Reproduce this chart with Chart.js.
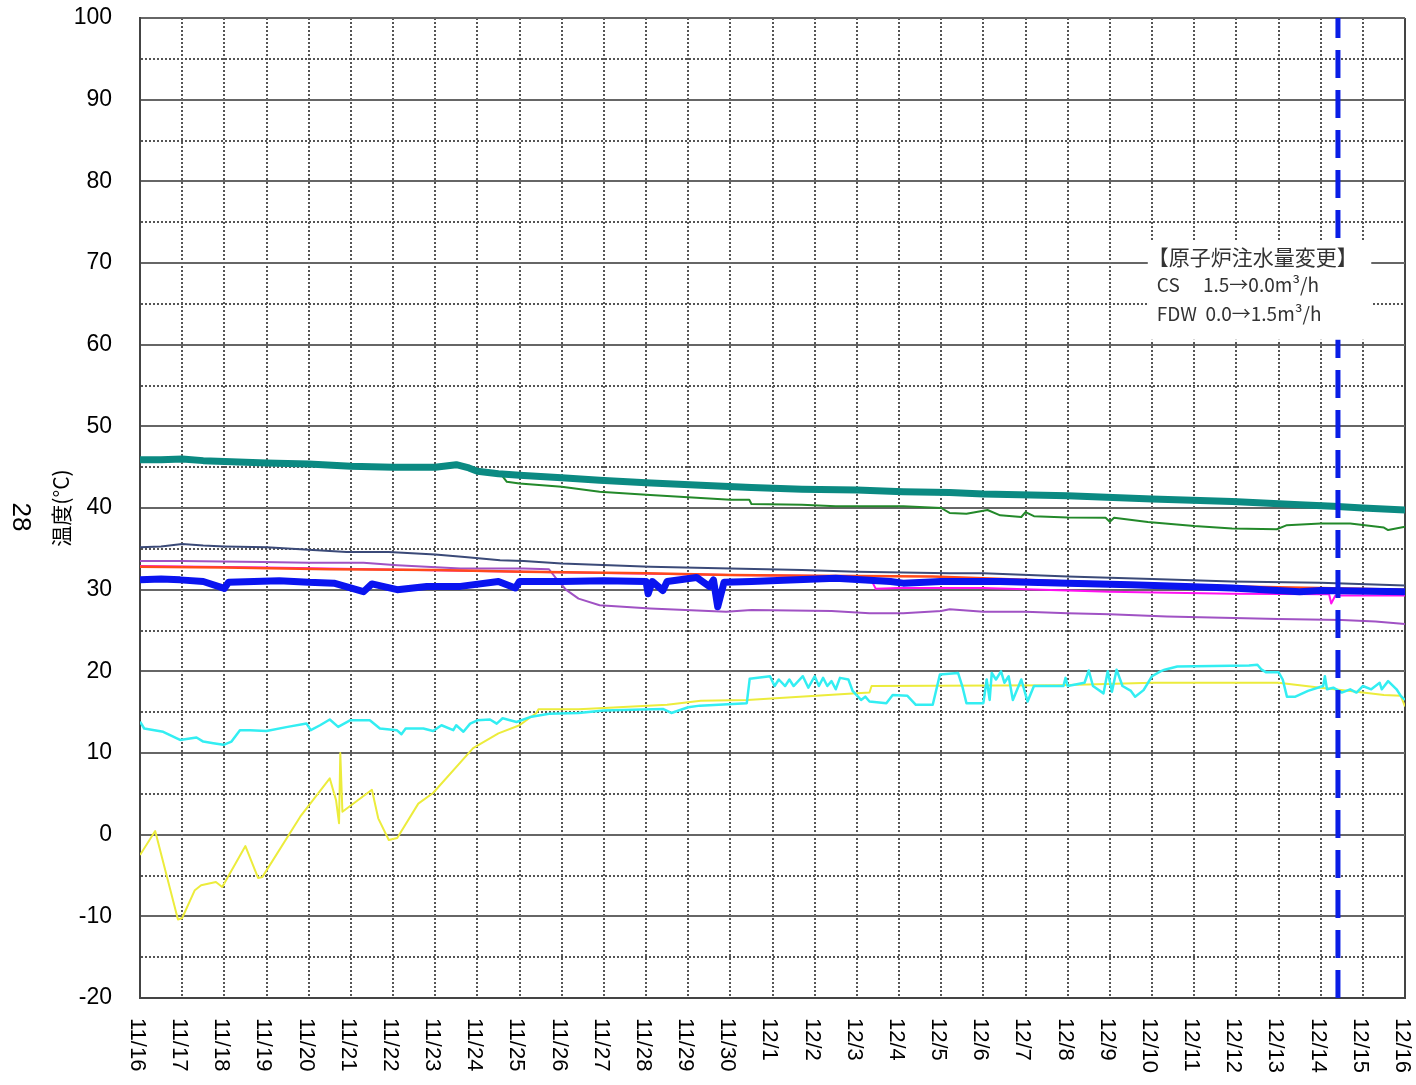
<!DOCTYPE html>
<html>
<head>
<meta charset="utf-8">
<script src="https://cdn.jsdelivr.net/npm/chart.js@4/dist/chart.umd.min.js"></script>
<style>
  body { margin: 0; background: #fff; }
  canvas { display: block; }
</style>
</head>
<body>
<canvas id="grafica" width="1416" height="1085"></canvas>
<script>
// fechas del eje x (dia 0 = 11/16)
const xLabels = ['11/16','11/17','11/18','11/19','11/20','11/21','11/22','11/23','11/24','11/25',
  '11/26','11/27','11/28','11/29','11/30','12/1','12/2','12/3','12/4','12/5','12/6','12/7',
  '12/8','12/9','12/10','12/11','12/12','12/13','12/14','12/15','12/16'];
const yTicks = [-20, -10, 0, 10, 20, 30, 40, 50, 60, 70, 80, 90, 100];

const yTitle = '温度(°C)';
const pageNo = '28';
const noteLines = ['【原子炉注水量変更】', 'CS　 1.5→0.0m³/h', 'FDW  0.0→1.5m³/h'];
const changeDay = 28.41;

// [dia, temperatura]
const tealData = [[0,45.9],[0.5,45.9],[1,46.0],[1.5,45.8],[2,45.7],[3,45.5],[4,45.4],[5,45.1],[6,45.0],[7,45.0],
  [7.5,45.3],[7.8,44.9],[8,44.5],[8.5,44.2],[9,44.0],[10,43.7],[10.9,43.4],[12,43.1],[13.3,42.8],[14.5,42.5],
  [15.7,42.3],[17,42.2],[18.1,42.0],[19.2,41.9],[20,41.7],[22,41.5],[24,41.1],[25.9,40.8],[27.5,40.4],
  [28.3,40.2],[29,40.0],[30,39.75]];

const greenData = [[0,45.8],[1,45.9],[3,45.4],[5,45.0],[7,44.9],[7.5,45.2],[8,44.4],[8.55,44.2],[8.7,43.2],
  [9,43.0],[10,42.6],[10.9,42.0],[12.1,41.6],[14,41.0],[14.45,41.0],[14.5,40.5],[15.7,40.4],[16.5,40.2],
  [18.1,40.2],[19,40.0],[19.2,39.4],[19.6,39.3],[20.1,39.75],[20.4,39.1],[20.9,38.9],[21,39.5],[21.2,39.0],
  [22,38.85],[22.9,38.8],[23,38.3],[23.1,38.8],[23.9,38.3],[25,37.8],[25.9,37.5],[26.96,37.4],[27.2,37.9],
  [28,38.1],[28.7,38.1],[29.5,37.6],[29.6,37.3],[30,37.7]];

const slateData = [[0,35.2],[0.5,35.3],[1,35.6],[1.5,35.4],[2,35.3],[3,35.2],[4,34.9],[4.9,34.6],[5.9,34.6],
  [7,34.3],[7.7,34.0],[8.54,33.6],[9.1,33.5],[10,33.2],[12.1,32.8],[14,32.6],[15.7,32.4],[17,32.2],[19.2,32.0],
  [20,32.0],[22,31.6],[24,31.3],[25.9,31.0],[28,30.85],[30,30.5]];

const purpleData = [[0,33.5],[1,33.5],[2.9,33.4],[4,33.3],[5.3,33.3],[6.1,33.0],[7.6,32.6],[9.1,32.6],[9.7,32.5],
  [9.85,31.5],[10.1,30.0],[10.4,28.9],[10.9,28.1],[12.1,27.7],[13.9,27.3],[14.5,27.5],[16.4,27.4],[17.3,27.1],
  [18.1,27.1],[19,27.4],[19.2,27.6],[20,27.3],[21,27.3],[22,27.1],[23,27.0],[24.35,26.7],[27,26.4],[28.5,26.3],
  [29.3,26.1],[30,25.8]];

const orangeData = [[0,32.8],[2,32.7],[4.5,32.5],[7,32.4],[9.1,32.2],[12,32.0],[14,31.8],[16,31.7],[18.8,31.6],
  [20,31.4],[22,31.0],[24,30.7],[26,30.4],[28,30.2],[30,30.0]];

const magentaData = [[0,32.9],[3,32.7],[8,32.3],[14,31.8],[17.3,31.6],[17.45,30.1],[18,30.2],[20,30.2],[23,29.75],
  [25.9,29.5],[28.2,29.45],[28.25,28.3],[28.35,29.3],[30,29.3]];

const blueData = [[0,31.2],[0.5,31.3],[0.95,31.2],[1.5,31.0],[2.0,30.15],[2.1,30.9],[3.3,31.1],[4,30.9],[4.6,30.8],
  [5.3,29.75],[5.5,30.7],[6.1,30.0],[6.8,30.4],[7.6,30.4],[8.5,31.0],[8.9,30.2],[9.0,31.0],[10,31.0],[11,31.1],
  [12.0,31.0],[12.05,29.5],[12.15,31.0],[12.4,29.9],[12.5,31.0],[13.2,31.5],[13.5,30.4],[13.6,31.2],[13.7,27.9],
  [13.85,30.9],[14.5,31.0],[16.5,31.4],[17.8,31.0],[18.1,30.8],[19,31.0],[20.4,31.0],[22,30.8],[23.5,30.6],
  [25.9,30.2],[27.5,29.75],[28,29.9],[30,29.75]];

const cyanData = [[0,13.84],[0.1,13.0],[0.55,12.6],[0.95,11.6],[1.34,11.9],[1.5,11.4],[1.74,11.2],[1.98,11.0],
  [2.17,11.4],[2.37,12.8],[2.61,12.8],[3.0,12.7],[3.5,13.2],[3.95,13.6],[4.05,12.8],[4.27,13.4],[4.5,14.1],
  [4.7,13.2],[4.98,14.0],[5.45,14.0],[5.69,13.0],[6.09,12.8],[6.2,12.3],[6.3,13.0],[6.72,13.0],[6.95,12.7],
  [7.15,13.4],[7.43,12.8],[7.5,13.4],[7.67,12.6],[7.83,13.6],[8.0,14.0],[8.3,14.1],[8.46,13.6],[8.6,14.25],
  [8.93,13.8],[9.25,14.4],[9.7,14.8],[10.4,14.9],[11,15.2],[12.4,15.4],[12.6,14.9],[13,15.6],[13.28,15.8],
  [14.39,16.1],[14.46,19.1],[14.94,19.4],[15.05,18.2],[15.15,19.0],[15.3,18.2],[15.4,19.0],[15.5,18.2],
  [15.72,19.4],[15.85,18.0],[16.0,19.4],[16.1,18.2],[16.2,19.2],[16.3,18.2],[16.4,18.8],[16.5,17.8],[16.6,19.2],
  [16.8,19.0],[16.9,17.6],[17.1,16.5],[17.2,16.9],[17.3,16.3],[17.7,16.1],[17.85,17.1],[18.2,17.0],[18.4,15.9],
  [18.8,15.9],[18.97,19.6],[19.4,19.8],[19.5,18.2],[19.6,16.1],[20,16.1],[20.08,19.0],[20.15,16.5],[20.2,19.8],
  [20.3,19.0],[20.42,20.0],[20.5,18.6],[20.6,19.4],[20.7,16.5],[20.9,19.0],[21.05,16.3],[21.2,18.2],[21.58,18.2],
  [21.9,18.2],[21.95,19.2],[22.0,18.2],[22.4,18.6],[22.5,20.1],[22.6,18.2],[22.85,17.3],[22.95,20.0],[23.05,17.5],
  [23.16,20.2],[23.3,18.2],[23.5,17.6],[23.6,16.9],[23.8,17.7],[24,19.4],[24.2,20.0],[24.3,20.2],[24.6,20.6],
  [26.3,20.7],[26.5,20.8],[26.6,20.2],[26.7,19.9],[27.0,19.9],[27.1,19.0],[27.2,16.9],[27.4,16.9],[27.7,17.6],
  [28.06,18.2],[28.1,19.4],[28.15,17.8],[28.3,18.0],[28.5,17.4],[28.7,17.8],[28.85,17.4],[29.0,18.2],[29.2,17.8],
  [29.4,18.6],[29.45,17.8],[29.6,18.8],[29.8,17.8],[29.9,17.0],[30,16.5]];

const yellowData = [[0,-2.5],[0.36,0.45],[0.9,-10.4],[1.0,-10.2],[1.3,-6.8],[1.45,-6.2],[1.8,-5.8],[1.95,-6.4],
  [2.5,-1.4],[2.8,-5.3],[2.9,-5.2],[3.8,2.2],[4.5,6.9],[4.65,4.2],[4.72,1.4],[4.75,10.0],[4.8,2.8],[5.5,5.5],
  [5.65,2.0],[5.9,-0.65],[6.1,-0.4],[6.6,3.8],[6.95,5.1],[7.9,10.6],[8.5,12.4],[9.0,13.4],[9.4,14.9],[9.45,15.35],
  [10.4,15.35],[11,15.5],[12.5,15.9],[13.3,16.4],[14.4,16.5],[16.9,17.3],[17.3,17.4],[17.35,18.2],[21.8,18.3],
  [24,18.6],[27,18.6],[28,18.0],[28.7,17.6],[29.5,17.1],[29.9,17.0],[30,15.7]];

const changeLine = [[changeDay, -20], [changeDay, 100]];

function serie(data, color, width) {
  return { data: data, borderColor: color, borderWidth: width, pointRadius: 0, fill: false, tension: 0 };
}

// textos que se dibujan a mano: fechas giradas, "28" y el recuadro
const extras = {
  id: 'extras',
  afterDatasetsDraw(chart) {
    const ctx = chart.ctx;
    const x = chart.scales.x;
    const y = chart.scales.y;

    // recuadro del cambio de inyeccion
    const bx = x.getPixelForValue(23.9);
    const by = y.getPixelForValue(72.8);
    const bw = x.getPixelForValue(29.2) - bx;
    const bh = y.getPixelForValue(60.6) - by;
    ctx.save();
    ctx.fillStyle = '#ffffff';
    ctx.fillRect(bx, by, bw, bh);
    ctx.fillStyle = '#333333';
    ctx.textBaseline = 'middle';
    ctx.font = '21px "Noto Sans CJK JP", sans-serif';
    ctx.fillText(noteLines[0], bx, by + 17);
    ctx.font = '19px "Noto Sans CJK JP", sans-serif';
    ctx.fillText(noteLines[1], bx + 9, by + 45);
    ctx.fillText(noteLines[2], bx + 9, by + 74);
    ctx.restore();
  },
  afterDraw(chart) {
    const ctx = chart.ctx;
    const x = chart.scales.x;
    ctx.save();
    ctx.fillStyle = '#000';
    ctx.font = '22px "Liberation Sans", Arial, sans-serif';
    ctx.textAlign = 'left';
    ctx.textBaseline = 'middle';
    xLabels.forEach((lab, i) => {
      ctx.save();
      ctx.translate(x.getPixelForValue(i) - 3, chart.chartArea.bottom + 20);
      ctx.rotate(Math.PI / 2);
      ctx.fillText(lab, 0, 0);
      ctx.restore();
    });
    ctx.font = '26px "Liberation Sans", Arial, sans-serif';
    ctx.textAlign = 'center';
    ctx.translate(20, 517);
    ctx.rotate(Math.PI / 2);
    ctx.fillText(pageNo, 0, 0);
    ctx.restore();
  }
};

const grafica = new Chart(document.getElementById('grafica').getContext('2d'), {
  type: 'line',
  data: {
    datasets: [
      Object.assign(serie(changeLine, '#0a1ee6', 5), { borderDash: [28, 12], borderCapStyle: 'butt' }),
      serie(tealData, '#0b8a82', 7),
      serie(blueData, '#0a14f0', 7),
      serie(cyanData, '#33eef2', 2.5),
      serie(yellowData, '#ecec3c', 2),
      serie(orangeData, '#ff4a1a', 2.5),
      serie(magentaData, '#ff10f0', 2),
      serie(slateData, '#3b4a78', 2),
      serie(purpleData, '#a052c4', 2),
      serie(greenData, '#23892a', 2)
    ]
  },
  options: {
    responsive: false,
    animation: false,
    devicePixelRatio: 1,
    layout: { padding: { left: 0, right: 11, top: 18, bottom: 0 } },
    plugins: { legend: { display: false }, tooltip: { enabled: false } },
    elements: { line: { borderJoinStyle: 'round' } },
    scales: {
      x: {
        type: 'linear',
        min: 0,
        max: 30,
        ticks: { stepSize: 1, display: false },
        grid: {
          drawTicks: false,
          color: ctx => (ctx.tick && ctx.tick.value === 30 ? '#444' : '#555'),
          lineWidth: ctx => (ctx.tick && ctx.tick.value === 30 ? 2 : 2)
        },
        border: {
          color: '#444',
          width: 2,
          dash: ctx => (ctx.tick && ctx.tick.value !== 30 && ctx.tick.value !== 0 ? [2, 2] : [])
        },
        afterFit: s => { s.height = 87; s.paddingLeft = 0; s.paddingRight = 0; }
      },
      y: {
        min: -20,
        max: 100,
        ticks: {
          stepSize: 5,
          padding: 28,
          color: '#000',
          font: { size: 23, family: '"Liberation Sans", Arial, sans-serif' },
          callback: v => (yTicks.includes(v) ? v : '')
        },
        grid: {
          drawTicks: false,
          color: ctx => (ctx.tick && ctx.tick.value % 10 === 0 ? '#666' : '#555'),
          lineWidth: 2
        },
        border: {
          color: '#444',
          width: 2,
          dash: ctx => (ctx.tick && ctx.tick.value % 10 !== 0 ? [2, 2] : [])
        },
        title: {
          display: true,
          text: yTitle,
          color: '#000',
          font: { size: 21, family: '"Noto Sans CJK JP", sans-serif' },
          padding: { top: 48, bottom: 0 }
        },
        afterFit: s => { s.width = 140; s.paddingTop = 0; s.paddingBottom = 0; }
      }
    }
  },
  plugins: [extras]
});
</script>
</body>
</html>
